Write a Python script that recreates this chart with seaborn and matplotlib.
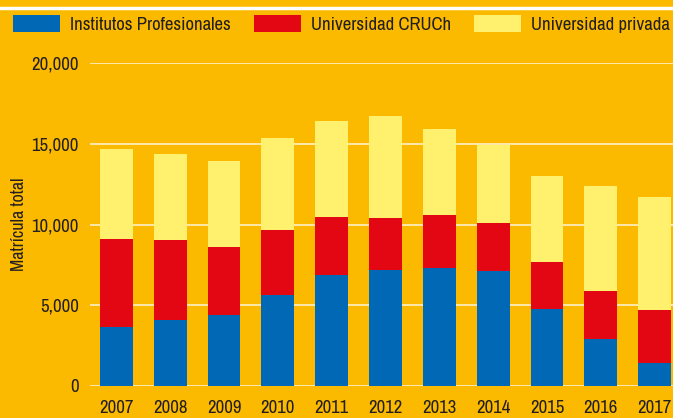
"""Matrícula total por tipo de institución, 2007-2017 (stacked bars)."""

import matplotlib

matplotlib.use("Agg")
import matplotlib.pyplot as plt
import pandas as pd
import seaborn as sns
from matplotlib import font_manager
from matplotlib.lines import Line2D
from matplotlib.patches import Patch
from matplotlib.ticker import FuncFormatter

sns.set_style("white")


def pick_narrow_font():
    """Original uses a condensed grotesque; grab whatever narrow face is installed."""
    wanted = ("narrow", "condensed")
    for f in font_manager.fontManager.ttflist:
        if f.style != "normal" or f.weight not in (400, "normal", "regular"):
            continue
        name = f.name.lower()
        if any(w in name for w in wanted):
            return f.name, "normal"
    for f in font_manager.fontManager.ttflist:
        if f.style == "normal" and str(f.stretch) in ("condensed", "semi-condensed"):
            return f.name, f.stretch
    return "DejaVu Sans", "normal"


FONT_NAME, FONT_STRETCH = pick_narrow_font()
plt.rcParams["font.family"] = [FONT_NAME, "DejaVu Sans"]
plt.rcParams["font.stretch"] = FONT_STRETCH

BG = "#FBBA00"
INK = "#231f20"
FS = 13.5
COLORS = {"ip": "#0068B4", "cruch": "#E30613", "priv": "#FFF06E"}

years = ["2007", "2008", "2009", "2010", "2011", "2012",
         "2013", "2014", "2015", "2016", "2017"]
institutos = [3650, 4100, 4390, 5630, 6870, 7180, 7330, 7120, 4770, 2910, 1420]
cruch = [5450, 4940, 4210, 4030, 3590, 3220, 3260, 2970, 2910, 2970, 3280]
privada = [5570, 5320, 5330, 5690, 5940, 6310, 5320, 4850, 5320, 6500, 7000]

legend_labels = ["Institutos Profesionales", "Universidad CRUCh", "Universidad privada"]

df = pd.DataFrame({"year": years, "ip": institutos, "cruch": cruch, "priv": privada})
df["lvl_ip"] = df["ip"]
df["lvl_cruch"] = df["ip"] + df["cruch"]
df["lvl_priv"] = df["lvl_cruch"] + df["priv"]

fig = plt.figure(figsize=(6.73, 4.18), dpi=100, facecolor=BG)
ax = fig.add_axes([90 / 673, 32 / 418, 1 - 90 / 673, 323 / 418])
ax.set_facecolor(BG)

# tallest level first so the lower segments sit on top of it
for key in ["priv", "cruch", "ip"]:
    sns.barplot(data=df, x="year", y=f"lvl_{key}", color=COLORS[key],
                width=0.61, saturation=1, linewidth=0, edgecolor="none",
                ax=ax, zorder=3)

ax.set_ylim(0, 20000)
ax.set_xlim(-0.49, 10.34)
ax.set_yticks([0, 5000, 10000, 15000, 20000])
ax.yaxis.set_major_formatter(FuncFormatter(lambda v, _: f"{int(v):,}"))
ax.yaxis.grid(True, color="white", lw=1.1, alpha=0.85, zorder=1)
ax.set_axisbelow(True)
for s in ax.spines.values():
    s.set_visible(False)
ax.tick_params(axis="y", length=0, pad=8, labelsize=FS, colors=INK)
ax.tick_params(axis="x", length=0, pad=10, labelsize=FS, colors=INK)
ax.set_xlabel("")
ax.set_ylabel("Matrícula total", fontsize=13, color=INK, labelpad=3)

handles = [Patch(facecolor=COLORS[k], edgecolor="none") for k in ["ip", "cruch", "priv"]]
fig.legend(handles, legend_labels, ncol=3, frameon=False, fontsize=FS,
           loc="upper left", bbox_to_anchor=(13 / 673, 1 - 15 / 418),
           borderaxespad=0, borderpad=0, handlelength=2.5, handleheight=1.0,
           handletextpad=0.53, columnspacing=1.25, labelcolor=INK)

# thin white rule under the (cropped) header
fig.add_artist(Line2D([0, 1], [1 - 8 / 418, 1 - 8 / 418], color="white", lw=2.5,
                      transform=fig.transFigure))

fig.savefig("out.png", dpi=100, facecolor=BG)
